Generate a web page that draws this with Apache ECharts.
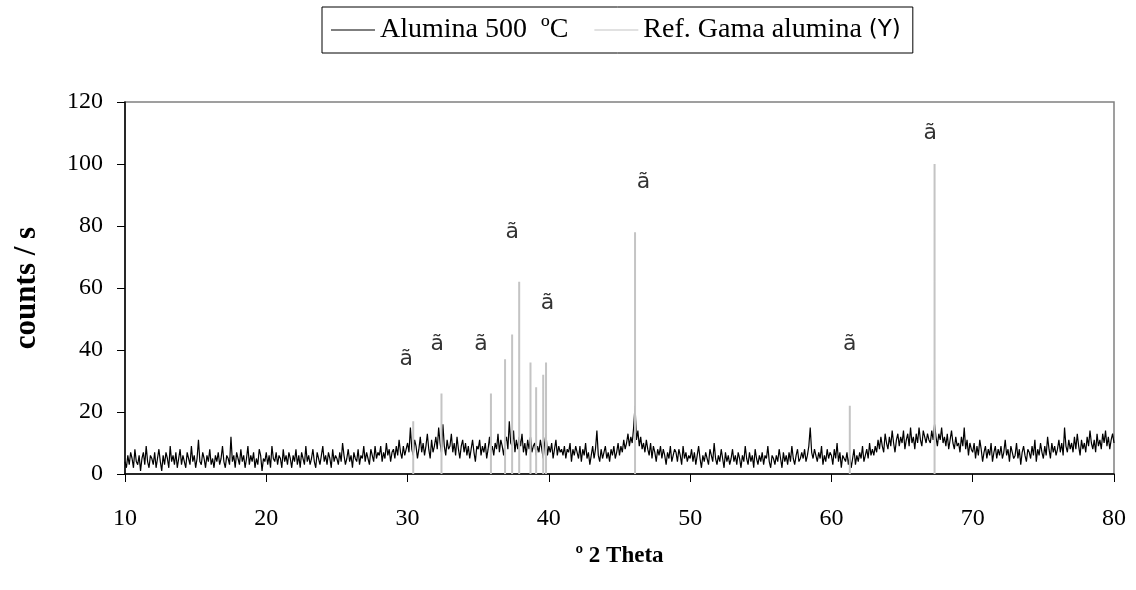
<!DOCTYPE html>
<html>
<head>
<meta charset="utf-8">
<script src="https://cdn.jsdelivr.net/npm/echarts@6/dist/echarts.min.js"></script>
<style>
html,body{margin:0;padding:0;background:#fff;}
#chart{width:1136px;height:590px;}
</style>
</head>
<body>
<div id="chart"></div>
<script>
// ---- Data ----
const thetaStart = 10;
const thetaStep = 0.1;
// measured counts / s, one row per degree 2θ (10.0 .. 79.9), then 80.0
const counts = [
4,2,6,3,7,5,2,8,4,3,
6,1,5,7,3,9,4,2,6,5,
3,7,2,5,8,4,1,6,3,7,
5,2,9,4,6,3,7,2,5,8,
3,6,4,2,7,5,3,9,4,6,
2,5,11,4,3,7,5,2,6,4,
8,3,5,2,6,4,7,3,5,9,
4,2,6,5,3,12,4,6,2,7,
5,3,8,4,6,2,5,9,3,6,
4,7,2,5,3,8,6,1,5,4,
7,3,6,2,9,5,4,7,3,6,
5,2,8,4,6,3,7,5,2,6,
4,8,3,6,2,7,5,3,9,4,
6,3,5,8,4,2,7,5,3,6,
9,4,6,3,7,5,2,8,4,6,
5,3,7,4,10,6,3,5,8,4,
6,2,7,5,4,8,3,6,5,9,
4,7,5,3,8,6,4,9,5,7,
6,9,4,7,5,10,6,8,4,7,
8,5,9,6,11,7,5,9,6,8,
10,7,15,8,6,11,9,5,8,12,
7,10,6,9,13,8,5,11,7,9,
12,8,15,10,7,16,9,6,11,8,
9,13,7,10,6,12,8,5,9,11,
7,10,6,9,5,8,11,7,4,9,
8,11,6,9,7,10,5,8,12,7,
9,6,10,8,13,7,11,9,6,10,
12,8,17,10,9,14,7,11,8,12,
9,13,7,10,6,11,8,12,7,9,
10,6,9,7,11,8,5,10,13,6,
9,7,10,5,8,11,6,9,7,8,
6,9,5,8,7,10,4,8,6,9,
7,5,9,4,8,6,10,5,7,3,
6,9,5,8,14,6,4,8,5,7,
9,5,7,4,8,6,9,5,7,10,
6,9,7,11,8,10,13,9,12,10,
15,22,11,14,9,12,8,10,7,11,
8,6,10,5,9,7,4,8,6,9,
5,8,6,3,7,5,9,4,6,8,
7,4,8,6,3,9,5,7,4,6,
5,8,4,7,3,6,9,5,2,6,
4,7,5,3,8,6,4,10,5,3,
6,4,8,5,2,7,4,6,3,5,
8,4,6,3,7,5,2,6,4,9,
5,3,7,4,6,2,8,5,3,6,
4,7,3,6,5,9,4,2,6,5,
3,6,4,8,5,2,7,4,6,3,
7,4,9,5,3,6,8,4,5,7,
5,8,4,6,9,15,7,5,8,6,
4,7,5,9,3,6,4,8,5,7,
6,3,8,5,10,4,7,2,6,5,
4,7,3,6,2,5,8,3,6,4,
7,5,9,4,6,8,5,10,6,8,
6,9,7,11,8,12,9,7,13,10,
8,12,9,14,10,7,11,13,9,12,
10,14,8,11,13,9,15,10,12,8,
13,10,15,11,9,14,12,10,13,11,
10,14,11,16,12,9,13,11,15,10,
12,9,13,8,11,14,10,8,12,9,
10,7,12,9,15,8,11,6,10,8,
7,10,5,9,6,11,8,4,7,9,
5,8,6,10,4,7,9,5,8,6,
9,5,7,11,6,8,4,9,7,5,
6,10,5,8,3,7,9,6,4,8,
7,5,9,6,11,4,8,6,10,7,
5,9,6,12,8,5,10,7,9,6,
8,11,7,10,6,15,9,7,11,8,
10,7,12,8,13,9,6,11,8,10,
7,12,9,14,10,8,11,7,13,9,
11,8,13,10,14,9,12,8,11,13,
10
];
// reference gamma-alumina stick pattern
const refTheta = [30.4, 32.4, 35.9, 36.9, 37.4, 37.9, 38.7, 39.1, 39.6, 39.8, 46.1, 61.3, 67.3];
const refIntensity = [17, 26, 26, 37, 45, 62, 36, 28, 32, 36, 78, 22, 100];
// peak annotations
const markTheta = [29.9, 32.1, 35.2, 37.4, 39.9, 46.7, 61.3, 67.0];
const markY = [37, 42, 42, 78, 55, 94, 42, 110];
const markText = ['ã', 'ã', 'ã', 'ã', 'ã', 'ã', 'ã', 'ã'];
// axes
const xTicks = [10, 20, 30, 40, 50, 60, 70, 80];
const yTicks = [0, 20, 40, 60, 80, 100, 120];
const seriesNames = ['Alumina 500  ºC', 'Ref. Gama alumina (Y)'];
const xTitle = 'º 2 Theta';
const yTitle = 'counts / s';

// ---- Build ----
const lineData = counts.map((v, i) => [+(thetaStart + i * thetaStep).toFixed(2), v]);
const stickData = [];
refTheta.forEach((t, i) => {
  stickData.push([t, 0], [t, refIntensity[i]], [t, 0], [t, null]);
});
const markData = markTheta.map((t, i) => ({ value: [t, markY[i]], name: markText[i] }));

const serif = '"Liberation Serif", "Times New Roman", serif';
const chart = echarts.init(document.getElementById('chart'), null, { renderer: 'canvas' });
chart.setOption({
  animation: false,
  backgroundColor: '#fff',
  textStyle: { fontFamily: serif },
  grid: {
    left: 125, top: 102, right: 22, bottom: 116,
    show: true, borderColor: '#808080', borderWidth: 1.5, backgroundColor: 'transparent'
  },
  legend: {
    left: 322, top: 7,
    data: [
      { name: seriesNames[0], icon: 'rect' },
      { name: seriesNames[1], icon: 'rect' }
    ],
    itemWidth: 44, itemHeight: 1, itemGap: 26,
    padding: [9, 12, 9, 9],
    borderColor: '#000', borderWidth: 1,
    formatter: function (name) {
      if (name === seriesNames[1]) return 'Ref. Gama alumina {s|(Y)}';
      return name;
    },
    textStyle: {
      fontFamily: serif, fontSize: 28, color: '#000',
      rich: { s: { fontFamily: '"DejaVu Sans", sans-serif', fontSize: 23, color: '#000' } }
    }
  },
  xAxis: {
    type: 'value', min: 10, max: 80, interval: 10,
    name: xTitle, nameLocation: 'middle', nameGap: 71,
    nameTextStyle: { fontFamily: serif, fontSize: 23, fontWeight: 'bold', color: '#000' },
    axisLine: { show: true, onZero: false, lineStyle: { color: '#000', width: 1.5 } },
    axisTick: { show: true, inside: false, length: 8, lineStyle: { color: '#000', width: 1 } },
    axisLabel: {
      margin: 33, fontFamily: serif, fontSize: 24, color: '#000',
      formatter: v => (xTicks.indexOf(v) >= 0 ? String(v) : '')
    },
    splitLine: { show: false }
  },
  yAxis: {
    type: 'value', min: 0, max: 120, interval: 20,
    name: yTitle, nameLocation: 'middle', nameGap: 83, nameRotate: 90,
    nameTextStyle: { fontFamily: serif, fontSize: 31, fontWeight: 'bold', color: '#000' },
    axisLine: { show: true, lineStyle: { color: '#000', width: 1.5 } },
    axisTick: { show: true, inside: false, length: 8, lineStyle: { color: '#000', width: 1 } },
    axisLabel: {
      margin: 22, fontFamily: serif, fontSize: 24, color: '#000',
      formatter: v => (yTicks.indexOf(v) >= 0 ? String(v) : '')
    },
    splitLine: { show: false }
  },
  series: [
    {
      name: seriesNames[0], type: 'line', data: lineData,
      showSymbol: false, symbol: 'none',
      lineStyle: { color: '#000', width: 1.2 }, itemStyle: { color: '#000' },
      z: 2
    },
    {
      name: seriesNames[1], type: 'line', data: stickData,
      showSymbol: false, symbol: 'none', connectNulls: false,
      lineStyle: { color: '#c4c4c4', width: 2 }, itemStyle: { color: '#c4c4c4' },
      z: 3
    },
    {
      name: 'marks', type: 'scatter', data: markData,
      symbolSize: 0, silent: true,
      label: {
        show: true, position: 'inside',
        formatter: p => p.name,
        fontFamily: '"DejaVu Sans", sans-serif', fontSize: 22, color: '#000'
      },
      z: 4
    }
  ]
});
</script>
</body>
</html>
